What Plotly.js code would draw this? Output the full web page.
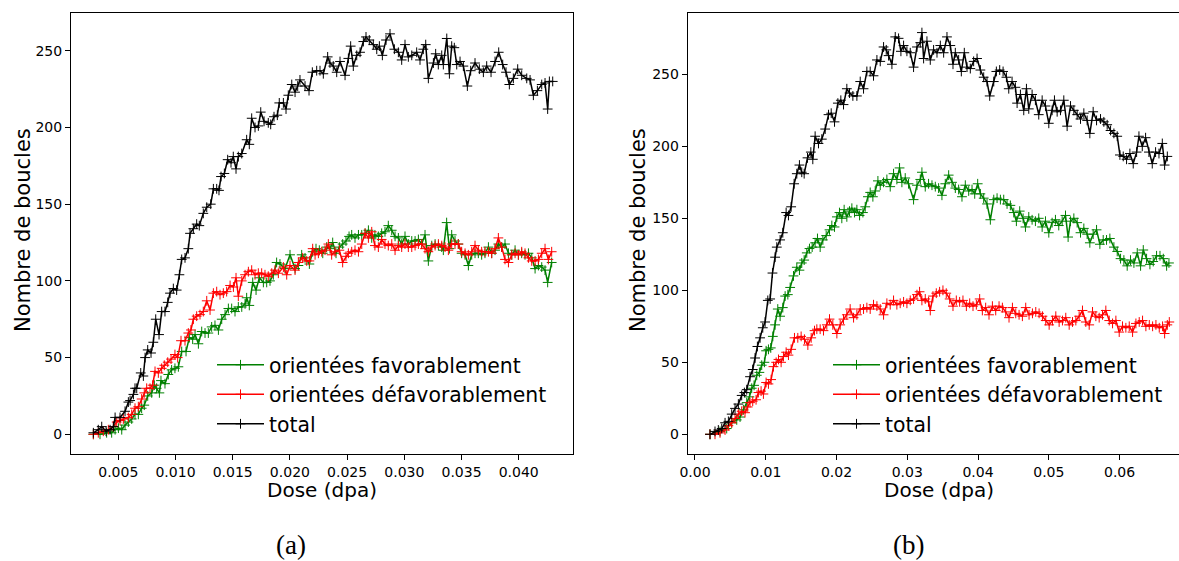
<!DOCTYPE html>
<html>
<head>
<meta charset="utf-8">
<script src="https://cdn.plot.ly/plotly-3.0.1.min.js"></script>
<style>html,body{margin:0;padding:0;background:#fff;}#chart{width:1179px;height:561px;}</style>
</head>
<body>
<div id="chart"></div>
<script>
// ---- Data (dose in dpa, number of loops) ----
const seriesNames = ["orientées favorablement", "orientées défavorablement", "total"];
const panelLabels = ["(a)", "(b)"];

// Panel (a)
const favA = [[0.00282,0],[0.0034,0],[0.00398,1],[0.00442,1],[0.00472,3],[0.00501,4],[0.0053,3],[0.00559,6],[0.00588,8],[0.00617,10],[0.00646,13],[0.00675,13],[0.00704,17],[0.00727,19],[0.00757,25],[0.00792,27],[0.00815,32],[0.00835,30],[0.00859,27],[0.00873,35],[0.00908,33],[0.00937,39],[0.00966,42],[0.00995,43],[0.01025,44],[0.01054,54],[0.01092,54],[0.01121,63],[0.0115,62],[0.01171,65],[0.012,59],[0.01229,67],[0.01258,66],[0.01287,66],[0.01316,70],[0.01345,71],[0.01375,68],[0.01404,75],[0.01433,78],[0.01462,82],[0.01491,82],[0.0152,80],[0.01549,83],[0.01579,83],[0.01608,85],[0.01622,89],[0.01645,84],[0.01675,99],[0.01704,94],[0.01733,102],[0.01768,99],[0.01797,99],[0.01826,100],[0.01855,104],[0.01884,112],[0.01913,111],[0.01957,108],[0.02001,117],[0.02045,108],[0.02074,110],[0.02103,117],[0.02132,115],[0.0217,111],[0.02199,119],[0.02228,121],[0.02257,120],[0.02287,118],[0.02321,122],[0.02351,121],[0.02374,125],[0.02403,118],[0.02432,122],[0.02461,124],[0.0249,126],[0.02517,129],[0.0254,130],[0.02569,128],[0.02599,130],[0.02628,130],[0.02657,131],[0.02686,133],[0.02715,128],[0.02743,130],[0.02773,129],[0.02802,131],[0.02831,132],[0.0286,136],[0.0289,133],[0.02919,129],[0.02948,128],[0.02977,124],[0.03006,129],[0.03035,124],[0.03065,126],[0.03094,126],[0.03123,127],[0.03152,124],[0.03181,130],[0.0321,113],[0.0324,123],[0.03269,124],[0.03298,123],[0.03327,122],[0.03341,120],[0.0337,138],[0.03394,121],[0.03414,130],[0.03443,126],[0.03472,124],[0.03501,118],[0.03531,117],[0.0356,110],[0.03589,117],[0.03618,118],[0.03647,118],[0.03676,117],[0.03705,118],[0.03735,122],[0.03764,118],[0.03793,120],[0.03822,124],[0.03851,122],[0.0388,124],[0.0391,118],[0.03939,117],[0.03968,120],[0.03997,117],[0.04026,118],[0.04055,117],[0.04085,118],[0.04114,115],[0.04143,108],[0.04172,110],[0.04201,109],[0.0423,107],[0.04253,99],[0.04288,112]];

const defavA = [[0.00282,0],[0.00325,1],[0.00369,2],[0.00413,3],[0.00457,5],[0.00486,8],[0.00515,9],[0.00544,10],[0.00588,11],[0.00617,13],[0.00646,17],[0.00675,18],[0.00704,23],[0.00727,27],[0.00748,30],[0.00777,30],[0.008,32],[0.00821,41],[0.0085,40],[0.00879,43],[0.00902,45],[0.00932,47],[0.00961,49],[0.00995,52],[0.01019,50],[0.01048,61],[0.01083,61],[0.01112,66],[0.01135,68],[0.01156,75],[0.01185,77],[0.01214,78],[0.01243,80],[0.01273,87],[0.01302,81],[0.01331,92],[0.0136,93],[0.01389,91],[0.01418,92],[0.01447,93],[0.01477,97],[0.01506,96],[0.01529,102],[0.01549,90],[0.01579,100],[0.01608,104],[0.01637,106],[0.01666,107],[0.01695,104],[0.01724,105],[0.01753,105],[0.01782,104],[0.01811,103],[0.01841,105],[0.0187,107],[0.01899,105],[0.01943,109],[0.01972,104],[0.02001,110],[0.02045,107],[0.02074,112],[0.02112,115],[0.02147,113],[0.0217,113],[0.02199,121],[0.0222,117],[0.02249,118],[0.02278,119],[0.02307,120],[0.02336,124],[0.02365,117],[0.02394,119],[0.02432,120],[0.02461,112],[0.0249,116],[0.02511,118],[0.0254,119],[0.02569,120],[0.02599,119],[0.02628,124],[0.02657,131],[0.02686,128],[0.02715,132],[0.02743,123],[0.02773,122],[0.02802,127],[0.02831,124],[0.0286,123],[0.0289,124],[0.02919,120],[0.02948,123],[0.02977,122],[0.03006,124],[0.03035,122],[0.03065,122],[0.03094,123],[0.03123,124],[0.03152,124],[0.03181,121],[0.0321,119],[0.0324,122],[0.03269,123],[0.03298,124],[0.03327,123],[0.03356,122],[0.03385,120],[0.03414,124],[0.03443,124],[0.03472,124],[0.03501,119],[0.03531,118],[0.0356,117],[0.03589,119],[0.03618,123],[0.03647,120],[0.03676,119],[0.03705,119],[0.03735,119],[0.03764,118],[0.03793,121],[0.03822,128],[0.03851,122],[0.0388,114],[0.0391,112],[0.03939,117],[0.03968,118],[0.03997,117],[0.04026,119],[0.04055,118],[0.04085,115],[0.04114,113],[0.04143,113],[0.04172,114],[0.04201,118],[0.0423,121],[0.04259,114],[0.04288,119]];

const totalA = [[0.00282,1],[0.00325,3],[0.00355,5],[0.00393,2],[0.00428,3],[0.00457,5],[0.00472,11],[0.00515,11],[0.00559,15],[0.00588,21],[0.00603,22],[0.00632,26],[0.00646,30],[0.00661,30],[0.00696,40],[0.00719,38],[0.00734,50],[0.00757,55],[0.00786,53],[0.00806,60],[0.00827,75],[0.00856,65],[0.00879,80],[0.00908,80],[0.00932,86],[0.00952,92],[0.00981,95],[0.0101,94],[0.01034,104],[0.01054,114],[0.01083,115],[0.01112,121],[0.01127,131],[0.01156,134],[0.01185,137],[0.01208,136],[0.01243,144],[0.01273,148],[0.01308,150],[0.01331,160],[0.0136,160],[0.0138,159],[0.01398,168],[0.01427,170],[0.01456,179],[0.01485,177],[0.01505,181],[0.01529,173],[0.01549,181],[0.01579,183],[0.01622,192],[0.01645,189],[0.01666,206],[0.01695,200],[0.01724,201],[0.01745,210],[0.01774,204],[0.01811,203],[0.01832,202],[0.01861,207],[0.0189,208],[0.01907,216],[0.01943,216],[0.01966,212],[0.01986,221],[0.02016,228],[0.02045,223],[0.02068,227],[0.02088,231],[0.02132,227],[0.02167,224],[0.02196,236],[0.02234,237],[0.02263,237],[0.02292,235],[0.0233,246],[0.0235,242],[0.02379,240],[0.02409,236],[0.02438,243],[0.02482,234],[0.02511,245],[0.02531,253],[0.02554,240],[0.02584,247],[0.02613,249],[0.02642,256],[0.02665,259],[0.02694,257],[0.02729,254],[0.02759,251],[0.02782,253],[0.02808,247],[0.0284,257],[0.02875,261],[0.02913,251],[0.02948,249],[0.02977,244],[0.03006,254],[0.03035,246],[0.03065,247],[0.03108,249],[0.03137,244],[0.03166,251],[0.03187,254],[0.0321,232],[0.03254,242],[0.03274,248],[0.03297,241],[0.03327,247],[0.03341,241],[0.03371,258],[0.03394,235],[0.03414,253],[0.03437,252],[0.03458,241],[0.03487,243],[0.03516,240],[0.03551,227],[0.0358,237],[0.03618,242],[0.03656,238],[0.03691,236],[0.0372,240],[0.03758,236],[0.03793,243],[0.03825,249],[0.0386,241],[0.03889,236],[0.03918,228],[0.03953,232],[0.03991,238],[0.04026,234],[0.0407,232],[0.04099,231],[0.04128,221],[0.04163,224],[0.04201,228],[0.0423,229],[0.04253,212],[0.04268,230],[0.04297,230]];

// Panel (b)
const favB = [[0.00212,0],[0.00354,2],[0.00448,4],[0.00519,8],[0.0059,10],[0.00637,12],[0.00684,17],[0.00731,22],[0.00769,26],[0.00802,32],[0.00835,34],[0.00873,41],[0.0091,43],[0.00943,48],[0.00981,50],[0.01005,58],[0.01038,59],[0.01071,60],[0.011,68],[0.01132,76],[0.0117,87],[0.01203,82],[0.01241,88],[0.01274,96],[0.01312,97],[0.01345,102],[0.01392,110],[0.01439,116],[0.01476,114],[0.01509,119],[0.01543,121],[0.0158,126],[0.01618,129],[0.01656,130],[0.01698,133],[0.01731,136],[0.01769,130],[0.01807,135],[0.01854,138],[0.01901,142],[0.01934,145],[0.01972,144],[0.02005,151],[0.02042,154],[0.02075,150],[0.02108,156],[0.02146,151],[0.02184,155],[0.02217,157],[0.02255,154],[0.02288,156],[0.02326,152],[0.02373,154],[0.02406,158],[0.02444,165],[0.02476,168],[0.02514,165],[0.02547,169],[0.02585,176],[0.02618,173],[0.02665,175],[0.02712,177],[0.02759,172],[0.02806,181],[0.02853,177],[0.02891,185],[0.02924,175],[0.02971,178],[0.03018,174],[0.03089,163],[0.03137,173],[0.03184,177],[0.03207,182],[0.03254,172],[0.03301,174],[0.03349,173],[0.03396,172],[0.03443,171],[0.0349,166],[0.03537,174],[0.03585,180],[0.03632,175],[0.03679,171],[0.03726,170],[0.03773,165],[0.0382,173],[0.03868,169],[0.03915,170],[0.03953,167],[0.03995,174],[0.04033,167],[0.0408,164],[0.04127,160],[0.04174,149],[0.04222,163],[0.04269,164],[0.04316,163],[0.04363,163],[0.0441,160],[0.04457,159],[0.04505,154],[0.04542,148],[0.04589,155],[0.04637,150],[0.0467,144],[0.04717,151],[0.04764,149],[0.04811,148],[0.04858,150],[0.04906,144],[0.04953,148],[0.05,140],[0.05047,147],[0.05094,149],[0.05141,145],[0.05189,148],[0.05236,152],[0.05273,137],[0.05307,148],[0.05354,150],[0.05401,147],[0.05448,140],[0.05495,143],[0.05542,139],[0.0558,133],[0.05627,139],[0.05675,142],[0.05722,132],[0.05769,135],[0.05816,135],[0.05863,136],[0.0592,130],[0.05967,127],[0.06014,122],[0.06061,121],[0.06108,117],[0.06155,121],[0.06203,119],[0.0625,126],[0.06297,117],[0.06335,128],[0.06382,122],[0.06429,118],[0.06476,120],[0.06523,124],[0.06571,124],[0.06618,122],[0.06665,117],[0.06698,119]];

const defavB = [[0.00212,0],[0.00283,0],[0.00354,1],[0.00425,3],[0.00472,6],[0.00519,8],[0.00566,11],[0.00613,14],[0.0066,16],[0.00707,15],[0.00745,19],[0.00778,22],[0.00816,23],[0.00863,24],[0.00896,29],[0.00934,30],[0.00967,28],[0.01005,36],[0.01038,35],[0.01076,38],[0.01109,47],[0.01147,50],[0.0118,52],[0.01217,50],[0.0125,54],[0.01288,57],[0.01321,55],[0.01359,59],[0.01406,67],[0.01453,67],[0.015,68],[0.01547,66],[0.01595,62],[0.01642,67],[0.01689,72],[0.01722,73],[0.01769,73],[0.01816,72],[0.01863,76],[0.01901,80],[0.01948,76],[0.02005,70],[0.02052,76],[0.02099,80],[0.02146,83],[0.02193,87],[0.02241,81],[0.02288,83],[0.02335,87],[0.02382,87],[0.02429,88],[0.02476,87],[0.02523,90],[0.02571,89],[0.02618,87],[0.02665,83],[0.02712,91],[0.02759,90],[0.02806,93],[0.02853,90],[0.029,91],[0.02948,92],[0.02995,91],[0.03042,93],[0.03089,94],[0.03137,97],[0.03174,99],[0.03207,93],[0.03254,94],[0.03301,92],[0.03325,86],[0.03363,96],[0.0341,98],[0.03457,99],[0.03504,100],[0.03551,98],[0.03599,94],[0.03646,89],[0.03693,93],[0.0374,92],[0.03787,93],[0.03835,89],[0.03882,91],[0.03929,89],[0.03976,90],[0.04023,94],[0.04061,86],[0.04108,88],[0.04155,83],[0.04203,89],[0.0425,86],[0.04297,89],[0.04344,88],[0.04391,85],[0.04438,81],[0.04486,88],[0.04533,84],[0.0458,83],[0.04627,82],[0.04674,88],[0.04721,83],[0.04769,84],[0.04816,85],[0.04863,84],[0.0491,82],[0.04957,79],[0.05005,76],[0.05052,79],[0.05099,82],[0.05146,78],[0.05193,79],[0.0524,81],[0.05288,76],[0.05335,78],[0.05382,79],[0.05429,82],[0.05476,86],[0.05523,78],[0.05571,76],[0.05618,85],[0.05665,82],[0.05712,81],[0.05759,83],[0.05806,86],[0.05854,79],[0.05901,77],[0.05948,79],[0.05995,71],[0.06042,75],[0.06089,74],[0.06137,75],[0.06184,71],[0.06231,77],[0.06278,78],[0.06325,79],[0.06372,75],[0.0642,76],[0.06467,75],[0.06514,76],[0.06561,74],[0.06608,75],[0.06637,70],[0.06675,76],[0.06703,78]];

const totalB = [[0.00212,0],[0.00283,2],[0.0033,3],[0.00378,4],[0.00425,8],[0.00472,9],[0.00519,14],[0.00566,18],[0.00613,21],[0.0066,27],[0.00698,29],[0.00731,31],[0.00778,40],[0.00816,45],[0.00849,53],[0.00882,61],[0.0092,67],[0.00958,74],[0.00991,78],[0.01029,93],[0.01062,94],[0.01095,112],[0.01132,123],[0.01156,130],[0.01203,135],[0.01241,140],[0.01288,154],[0.01321,152],[0.01359,158],[0.01401,174],[0.01439,181],[0.01476,187],[0.01509,182],[0.01543,181],[0.0159,192],[0.01637,196],[0.01665,191],[0.01698,207],[0.01745,202],[0.01792,205],[0.0184,212],[0.01887,222],[0.01925,223],[0.01972,217],[0.02019,230],[0.02061,232],[0.02099,229],[0.02146,240],[0.02184,237],[0.02231,235],[0.02288,235],[0.02335,245],[0.02382,240],[0.02429,252],[0.02476,252],[0.02523,249],[0.02571,260],[0.02618,259],[0.02665,269],[0.02703,267],[0.02736,263],[0.02783,257],[0.0283,276],[0.02877,275],[0.0291,266],[0.02948,270],[0.02995,266],[0.03042,265],[0.03089,255],[0.03137,269],[0.03184,272],[0.03207,279],[0.03231,261],[0.03278,273],[0.03325,260],[0.03372,267],[0.0342,265],[0.03467,270],[0.03514,265],[0.03561,276],[0.03608,270],[0.03646,257],[0.03679,265],[0.03726,260],[0.03764,252],[0.03806,265],[0.03844,255],[0.03891,254],[0.03938,259],[0.03986,261],[0.04033,253],[0.0408,248],[0.04127,245],[0.04165,235],[0.04222,245],[0.04259,252],[0.04306,253],[0.04354,252],[0.04401,248],[0.04434,240],[0.04481,245],[0.04528,241],[0.04552,230],[0.04599,236],[0.04646,225],[0.04684,240],[0.04717,226],[0.04764,236],[0.04811,232],[0.04858,222],[0.04906,232],[0.04953,228],[0.05,216],[0.05047,225],[0.0508,232],[0.05118,224],[0.05165,225],[0.05212,232],[0.05259,214],[0.05307,228],[0.05354,225],[0.05401,222],[0.05448,219],[0.05495,223],[0.05542,218],[0.0558,209],[0.05627,224],[0.05675,218],[0.05731,219],[0.05778,217],[0.05825,215],[0.05873,211],[0.0592,209],[0.05967,207],[0.06005,194],[0.06052,193],[0.06099,191],[0.06146,195],[0.06193,188],[0.06241,196],[0.06274,207],[0.06321,200],[0.06368,206],[0.06415,196],[0.06462,188],[0.06509,196],[0.06557,195],[0.06604,202],[0.06637,187],[0.06675,193]];

const colors = ["#008000", "#ff0000", "#000000"];

function mk(pairs, idx, xa, ya, leg) {
  return {
    x: pairs.map(p => p[0]), y: pairs.map(p => p[1]),
    name: seriesNames[idx], type: "scatter", mode: "lines+markers",
    xaxis: xa, yaxis: ya, legend: leg,
    line: {color: colors[idx], width: 1.5},
    marker: {symbol: "cross-thin", size: 7, color: colors[idx], line: {color: colors[idx], width: 1}}
  };
}

const data = [
  mk(favA, 0, "x", "y", "legend"), mk(defavA, 1, "x", "y", "legend"), mk(totalA, 2, "x", "y", "legend"),
  mk(favB, 0, "x2", "y2", "legend2"), mk(defavB, 1, "x2", "y2", "legend2"), mk(totalB, 2, "x2", "y2", "legend2")
];

const W = 1179, H = 561;
const px = v => v / W, py = v => (H - v) / H;
const axBase = {showgrid: false, zeroline: false, showline: true, linecolor: "#000", linewidth: 1,
  ticks: "outside", ticklen: 5, tickwidth: 1, tickcolor: "#000",
  tickfont: {family: "DejaVu Sans", size: 14, color: "#000"}};

const legBase = {font: {family: "DejaVu Sans", size: 20.4, color: "#000"}, bgcolor: "rgba(0,0,0,0)",
  borderwidth: 0, xanchor: "left", yanchor: "top", itemwidth: 47, tracegroupgap: 0};

const titleFont = {family: "DejaVu Sans", size: 20, color: "#000"};
const ytitleFont = {family: "DejaVu Sans", size: 21, color: "#000"};
const labelFont = {family: "Liberation Serif", size: 27, color: "#000"};

const layout = {
  width: W, height: H, margin: {l: 0, r: 0, t: 0, b: 0},
  paper_bgcolor: "#fff", plot_bgcolor: "#fff", showlegend: true,
  xaxis: Object.assign({}, axBase, {domain: [px(71), px(573.3)], range: [0.000865, 0.04477], tick0: 0, dtick: 0.005, tickformat: ".3f", mirror: true, anchor: "y"}),
  yaxis: Object.assign({}, axBase, {domain: [py(454), py(13)], range: [-12.84, 274.6], tick0: 0, dtick: 50, mirror: true, anchor: "x"}),
  xaxis2: Object.assign({}, axBase, {domain: [px(687.7), 1], range: [-0.00103, 0.0684], tick0: 0, dtick: 0.01, tickformat: ".2f", mirror: true, anchor: "y2"}),
  yaxis2: Object.assign({}, axBase, {domain: [py(454), py(13)], range: [-13.68, 292.6], tick0: 0, dtick: 50, mirror: false, anchor: "x2"}),
  legend: Object.assign({}, legBase, {x: px(212), y: py(345)}),
  legend2: Object.assign({}, legBase, {x: px(828), y: py(345)}),
  annotations: [
    {text: "Dose (dpa)", xref: "paper", yref: "paper", x: px(322), y: py(490), showarrow: false, borderpad: 0, xanchor: "center", yanchor: "middle", font: titleFont},
    {text: "Dose (dpa)", xref: "paper", yref: "paper", x: px(939), y: py(490), showarrow: false, borderpad: 0, xanchor: "center", yanchor: "middle", font: titleFont},
    {text: "Nombre de boucles", xref: "paper", yref: "paper", x: px(23), y: py(230), textangle: -90, showarrow: false, borderpad: 0, xanchor: "center", yanchor: "middle", font: ytitleFont},
    {text: "Nombre de boucles", xref: "paper", yref: "paper", x: px(638), y: py(230), textangle: -90, showarrow: false, borderpad: 0, xanchor: "center", yanchor: "middle", font: ytitleFont},
    {text: panelLabels[0], xref: "paper", yref: "paper", x: px(291), y: py(545), showarrow: false, borderpad: 0, xanchor: "center", yanchor: "middle", font: labelFont},
    {text: panelLabels[1], xref: "paper", yref: "paper", x: px(909), y: py(545), showarrow: false, borderpad: 0, xanchor: "center", yanchor: "middle", font: labelFont}
  ]
};

Plotly.newPlot("chart", data, layout, {staticPlot: true, displayModeBar: false});
</script>
</body>
</html>
